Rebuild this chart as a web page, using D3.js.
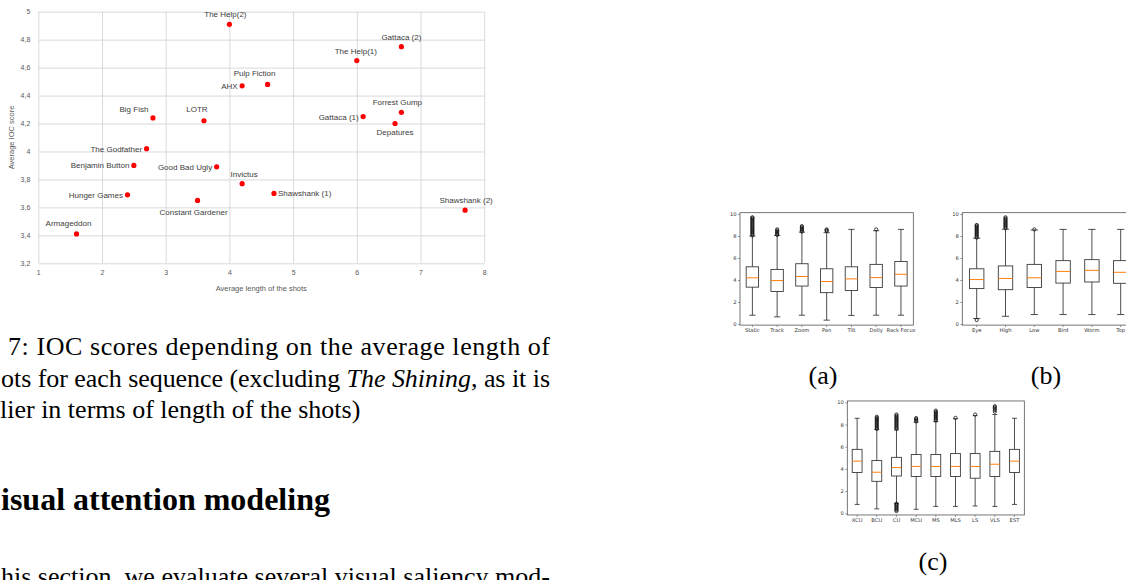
<!DOCTYPE html>
<html>
<head>
<meta charset="UTF-8">
<title>IOC scores vs shot length</title>
<script src="https://d3js.org/d3.v7.min.js"></script>
<style>
  body { margin: 0; background: #fff; }
  svg { display: block; }
</style>
</head>
<body>
<svg id="page"></svg>
<script>
// ---- scatter data (Figure 7) ----
const films = ["The Help(2)", "AHX", "Pulp Fiction", "Big Fish", "LOTR", "The Godfather",
  "Benjamin Button", "Good Bad Ugly", "Invictus", "Hunger Games", "Constant Gardener",
  "Armageddon", "The Help(1)", "Gattaca (2)", "Gattaca (1)", "Forrest Gump", "Depatures",
  "Shawshank (1)", "Shawshank (2)"];
const avgShotLength = [4.0, 4.2, 4.6, 2.8, 3.6, 2.7, 2.5, 3.8, 4.2, 2.4, 3.5, 1.6, 6.0, 6.7, 6.1, 6.7, 6.6, 4.7, 7.7];
const iocScore = [4.91, 4.47, 4.48, 4.24, 4.22, 4.02, 3.90, 3.89, 3.77, 3.69, 3.65, 3.41, 4.65, 4.75, 4.25, 4.28, 4.20, 3.70, 3.58];
const xTicks = [1, 2, 3, 4, 5, 6, 7, 8];
const yTicks = [3.2, 3.4, 3.6, 3.8, 4, 4.2, 4.4, 4.6, 4.8, 5];

// ---- box plot data ----
const aCats = ["Static", "Track", "Zoom", "Pan", "Tilt", "Dolly", "Rack Focus"];
const aLow = [0.8, 0.65, 0.8, 0.35, 0.78, 0.8, 0.8];
const aQ1 = [3.35, 2.95, 3.45, 2.85, 3.05, 3.32, 3.45];
const aMed = [4.2, 3.95, 4.32, 3.86, 4.1, 4.22, 4.52];
const aQ3 = [5.2, 4.96, 5.48, 5.02, 5.2, 5.42, 5.68];
const aHigh = [8.0, 8.05, 8.35, 8.3, 8.6, 8.48, 8.6];
const aFliers = [
  [8.05, 8.15, 8.25, 8.35, 8.45, 8.55, 8.65, 8.75, 8.85, 8.95, 9.05, 9.15, 9.25, 9.35, 9.45, 9.55, 9.65, 9.7],
  [8.1, 8.2, 8.3, 8.4, 8.5, 8.6],
  [8.4, 8.5, 8.6, 8.7, 8.8, 8.9],
  [8.45, 8.52, 8.6],
  [],
  [8.6],
  []
];

const bCats = ["Eye", "High", "Low", "Bird", "Worm", "Top"];
const bLow = [0.5, 0.7, 0.86, 0.86, 0.86, 0.86];
const bQ1 = [3.22, 3.12, 3.32, 3.72, 3.82, 3.7];
const bMed = [4.04, 4.14, 4.2, 4.78, 4.88, 4.7];
const bQ3 = [5.02, 5.28, 5.42, 5.76, 5.85, 5.76];
const bHigh = [7.8, 8.62, 8.55, 8.6, 8.6, 8.6];
const bFliers = [
  [0.36, 7.85, 7.95, 8.05, 8.15, 8.25, 8.35, 8.45, 8.55, 8.65, 8.75, 8.85, 8.95, 9.0],
  [8.7, 8.8, 8.9, 9.0, 9.1, 9.2, 9.3, 9.4, 9.5, 9.6, 9.7],
  [8.6],
  [], [], []
];

const cCats = ["XCU", "BCU", "CU", "MCU", "MS", "MLS", "LS", "VLS", "EST"];
const cLow = [0.8, 0.4, 0.9, 0.36, 0.62, 0.62, 0.66, 0.62, 0.8];
const cQ1 = [3.68, 2.88, 3.36, 3.32, 3.32, 3.32, 3.16, 3.32, 3.68];
const cMed = [4.7, 3.7, 4.12, 4.22, 4.22, 4.22, 4.22, 4.42, 4.7];
const cQ3 = [5.76, 4.75, 5.04, 5.3, 5.3, 5.38, 5.38, 5.58, 5.76];
const cHigh = [8.56, 7.55, 7.52, 8.2, 8.26, 8.52, 8.8, 8.9, 8.56];
const cFliers = [
  [],
  [7.6, 7.7, 7.8, 7.9, 8.0, 8.1, 8.2, 8.3, 8.4, 8.5, 8.6, 8.7],
  [0.2, 0.3, 0.4, 0.5, 0.6, 0.7, 0.8, 0.86, 7.6, 7.7, 7.8, 7.9, 8.0, 8.1, 8.2, 8.3, 8.4, 8.5, 8.6, 8.7, 8.8, 8.9],
  [8.28, 8.38, 8.48, 8.58],
  [8.35, 8.45, 8.55, 8.65, 8.75, 8.85, 8.95, 9.05, 9.15, 9.25],
  [8.6],
  [8.9],
  [9.15, 9.3, 9.45, 9.55, 9.65],
  []
];

const W = 1126, H = 580;
const svg = d3.select("#page").attr("width", W).attr("height", H);
svg.append("rect").attr("width", W).attr("height", H).attr("fill", "#fff");

// ================= scatter (Excel style) =================
const plot = { left: 38.3, right: 484.2, top: 11.7, bottom: 263.3 };
const x = d3.scaleLinear().domain([1, 8]).range([plot.left, plot.right]);
const y = d3.scaleLinear().domain([3.2, 5]).range([plot.bottom, plot.top]);
const excelFont = "'Liberation Sans', Arial, sans-serif";

const sc = svg.append("g");

sc.append("g")
  .attr("transform", `translate(0,${plot.bottom})`)
  .call(d3.axisBottom(x).tickValues(xTicks).tickSize(-(plot.bottom - plot.top)).tickPadding(7).tickFormat(d3.format("d")))
  .call(g => g.select(".domain").remove());
sc.append("g")
  .attr("transform", `translate(${plot.left},0)`)
  .call(d3.axisLeft(y).tickValues(yTicks).tickSize(-(plot.right - plot.left)).tickPadding(8)
    .tickFormat(d => String(+d.toFixed(1)).replace(".", ",")))
  .call(g => g.select(".domain").remove());
sc.selectAll(".tick line").attr("stroke", "#d9d9d9").attr("stroke-width", 1);
sc.selectAll(".tick text").attr("fill", "#595959").style("font-family", excelFont).style("font-size", "7px");

sc.append("text")
  .attr("x", (plot.left + plot.right) / 2).attr("y", 291)
  .attr("text-anchor", "middle").attr("fill", "#595959")
  .style("font-family", excelFont).style("font-size", "7.5px")
  .text("Average length of the shots");
sc.append("text")
  .attr("transform", `translate(14,${(plot.top + plot.bottom) / 2}) rotate(-90)`)
  .attr("text-anchor", "middle").attr("fill", "#595959")
  .style("font-family", excelFont).style("font-size", "7.5px")
  .text("Average IOC score");

const pts = films.map((f, i) => ({ name: f, lx: avgShotLength[i], ly: iocScore[i] }));

sc.selectAll("circle.pt").data(pts).join("circle")
  .attr("class", "pt")
  .attr("cx", d => x(d.lx)).attr("cy", d => y(d.ly))
  .attr("r", 2.6).attr("fill", "#ff0000");

// where each data label sits: side of the point, plus a small nudge
const labelPlacement = {
  "The Help(2)": ["top", -4, 0], "AHX": ["left", 0, 0], "Pulp Fiction": ["top", -13, -1],
  "Big Fish": ["top", -19, 1], "LOTR": ["top", -7, -2], "The Godfather": ["left", 0, 0],
  "Benjamin Button": ["left", 0, 0], "Good Bad Ugly": ["left", 0, 0], "Invictus": ["top", 2, 0],
  "Hunger Games": ["left", 0, 0], "Constant Gardener": ["bottom", -4, 3], "Armageddon": ["top", -8, -1],
  "The Help(1)": ["top", -1, 0], "Gattaca (2)": ["top", 0, 0], "Gattaca (1)": ["left", 0, 0],
  "Forrest Gump": ["top", -4, 0], "Depatures": ["bottom", 0, -1], "Shawshank (1)": ["right", 0, 0],
  "Shawshank (2)": ["top", 1, 0]
};

sc.selectAll("text.lbl").data(pts).join("text")
  .attr("class", "lbl")
  .attr("fill", "#404040")
  .style("font-family", excelFont).style("font-size", "8px")
  .each(function (d) {
    const [side, dx, dy] = labelPlacement[d.name];
    const px = x(d.lx), py = y(d.ly);
    const t = d3.select(this);
    if (side === "top") t.attr("x", px + dx).attr("y", py - 7 + dy).attr("text-anchor", "middle");
    else if (side === "bottom") t.attr("x", px + dx).attr("y", py + 12 + dy).attr("text-anchor", "middle");
    else if (side === "left") t.attr("x", px - 4.5 + dx).attr("y", py + 3 + dy).attr("text-anchor", "end");
    else t.attr("x", px + 4 + dx).attr("y", py + 3 + dy).attr("text-anchor", "start");
  })
  .text(d => d.name);

// ================= box plots (matplotlib style) =================
function boxPlot(spec) {
  const g = svg.append("g");
  const n = spec.cats.length;
  const bx = d3.scaleBand().domain(spec.cats).range([spec.left, spec.left + spec.unit * n]);
  const by = d3.scaleLinear().domain([0, 10]).range([spec.zeroY, spec.tenY]);
  const bw = bx.bandwidth() * 0.5, cw = bx.bandwidth() * 0.25;
  const lineCol = "#3a3a3a";

  const rows = spec.cats.map((c, i) => ({
    c, low: spec.low[i], q1: spec.q1[i], med: spec.med[i], q3: spec.q3[i], high: spec.high[i], fl: spec.fliers[i]
  }));

  const b = g.selectAll("g.box").data(rows).join("g")
    .attr("transform", d => `translate(${bx(d.c) + bx.bandwidth() / 2},0)`);

  b.append("line").attr("y1", d => by(d.q1)).attr("y2", d => by(d.low)).attr("stroke", lineCol).attr("stroke-width", 0.9);
  b.append("line").attr("y1", d => by(d.q3)).attr("y2", d => by(d.high)).attr("stroke", lineCol).attr("stroke-width", 0.9);
  b.append("line").attr("x1", -cw / 2).attr("x2", cw / 2).attr("y1", d => by(d.low)).attr("y2", d => by(d.low))
    .attr("stroke", lineCol).attr("stroke-width", 0.9);
  b.append("line").attr("x1", -cw / 2).attr("x2", cw / 2).attr("y1", d => by(d.high)).attr("y2", d => by(d.high))
    .attr("stroke", lineCol).attr("stroke-width", 0.9);
  b.append("rect").attr("x", -bw / 2).attr("width", bw)
    .attr("y", d => by(d.q3)).attr("height", d => by(d.q1) - by(d.q3))
    .attr("fill", "none").attr("stroke", lineCol).attr("stroke-width", 0.9);
  b.append("line").attr("x1", -bw / 2).attr("x2", bw / 2).attr("y1", d => by(d.med)).attr("y2", d => by(d.med))
    .attr("stroke", "#ff7f0e").attr("stroke-width", 1);
  b.selectAll("circle").data(d => d.fl).join("circle")
    .attr("cy", v => by(v)).attr("r", 1.6)
    .attr("fill", "none").attr("stroke", "#111").attr("stroke-width", 0.8);

  // frame
  const fTop = by(spec.ylim[1]), fBot = by(spec.ylim[0]);
  g.append("rect")
    .attr("x", spec.left).attr("y", fTop)
    .attr("width", spec.unit * n).attr("height", fBot - fTop)
    .attr("fill", "none").attr("stroke", "#555").attr("stroke-width", 0.8);

  const ya = g.append("g").attr("transform", `translate(${spec.left},0)`)
    .call(d3.axisLeft(by).tickValues([0, 2, 4, 6, 8, 10]).tickSize(2).tickPadding(1.5));
  const xa = g.append("g").attr("transform", `translate(0,${fBot})`)
    .call(d3.axisBottom(bx).tickSize(2).tickPadding(1.5));
  [ya, xa].forEach(a => {
    a.select(".domain").remove();
    a.selectAll(".tick line").attr("stroke", "#555").attr("stroke-width", 0.6);
    a.selectAll(".tick text").attr("fill", "#333").style("font-family", "'DejaVu Sans', sans-serif").style("font-size", "5.2px");
  });
}

boxPlot({ cats: aCats, low: aLow, q1: aQ1, med: aMed, q3: aQ3, high: aHigh, fliers: aFliers,
  left: 740, unit: 24.76, zeroY: 324, tenY: 214, ylim: [-0.1, 10.12] });
boxPlot({ cats: bCats, low: bLow, q1: bQ1, med: bMed, q3: bQ3, high: bHigh, fliers: bFliers,
  left: 962.3, unit: 28.8, zeroY: 324, tenY: 214, ylim: [-0.1, 10.12] });
boxPlot({ cats: cCats, low: cLow, q1: cQ1, med: cMed, q3: cQ3, high: cHigh, fliers: cFliers,
  left: 847.3, unit: 19.67, zeroY: 513.3, tenY: 402.3, ylim: [-0.15, 10.12] });

// ================= page text =================
const serif = "'Liberation Serif', 'Times New Roman', serif";
function pageText(px, py, size, parts, opts = {}) {
  const t = svg.append("text").attr("x", px).attr("y", py)
    .attr("fill", "#000").style("font-family", serif).style("font-size", size + "px");
  if (opts.bold) t.style("font-weight", "bold");
  if (opts.anchor) t.attr("text-anchor", opts.anchor);
  if (opts.justify) t.attr("textLength", opts.justify).attr("lengthAdjust", "spacing");
  parts.forEach(p => {
    const s = t.append("tspan").text(p.s);
    if (p.i) s.style("font-style", "italic");
  });
}

// text column runs past the right edge of the scatter, to about x = 550
pageText(8, 355, 26, [{ s: "7: IOC scores depending on the average length of" }], { justify: 542 });
pageText(1, 386.5, 26, [{ s: "ots for each sequence (excluding " }, { s: "The Shining", i: true }, { s: ", as it is" }], { justify: 549 });
pageText(0, 418, 26, [{ s: "lier in terms of length of the shots)" }]);
pageText(1, 510, 32, [{ s: "isual attention modeling" }], { bold: true });
pageText(1, 585, 26, [{ s: "his section, we evaluate several visual saliency mod-" }], { justify: 549 });

pageText(823, 384, 26, [{ s: "(a)" }], { anchor: "middle" });
pageText(1046, 384, 26, [{ s: "(b)" }], { anchor: "middle" });
pageText(933, 570, 26, [{ s: "(c)" }], { anchor: "middle" });
</script>
</body>
</html>
